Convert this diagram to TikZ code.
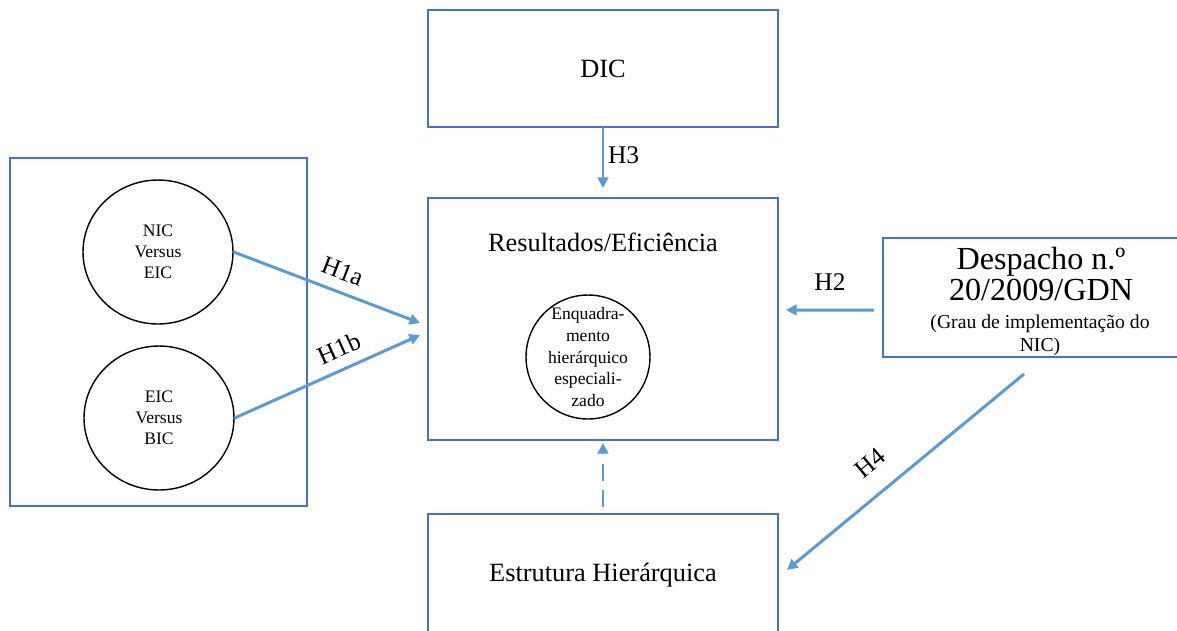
\documentclass[tikz,border=0pt]{standalone}
\usepackage{fontspec}
\setmainfont{Liberation Serif}
\usepackage{tikz}
\usetikzlibrary{shapes.geometric, arrows.meta, positioning, calc}
\usepackage{xcolor}
\definecolor{boxline}{HTML}{4472C4}
\definecolor{hypo}{HTML}{5B9BD5}
\tikzset{
  block/.style={rectangle, draw=boxline, line width=0.7pt, fill=white,
                minimum width=7cm, inner sep=0pt, outer sep=0pt,
                align=center, font=\fontsize{15}{18}\selectfont},
  bubble/.style={ellipse, draw=black, line width=0.8pt, inner sep=0pt,
                 minimum width=3cm, minimum height=2.88cm, align=center,
                 font=\fontsize{10}{12}\selectfont},
  hyp/.style={-{Triangle[length=6pt,width=6pt]}, line width=1.7pt, draw=hypo},
  dashhyp/.style={hyp, dash pattern=on 9.5pt off 5.5pt},
  hlabel/.style={font=\fontsize{14.5}{17}\selectfont, text=black, inner sep=2pt},
}

\begin{document}
\begin{tikzpicture}[x=0.02cm, y=-0.02cm]
  \useasboundingbox (0,0) rectangle (1177,630);

  %% Central column
  \node[block, minimum height=2.34cm] (dic) at (603,68.5) {DIC};
  \node[block, minimum height=4.84cm] (res) at (603,319) {};
  \node[font=\fontsize{15}{18}\selectfont] (restit) at (603,242) {Resultados/Eficiência};
  \node[circle, draw=black, line width=0.8pt, minimum size=2.48cm] (enq) at (588,357) {};
  \node[align=center, font=\fontsize{10}{12.3}\selectfont] (enqtxt) at (enq)
    {Enquadra-\\mento\\hierárquico\\especiali-\\zado};
  \node[block, minimum height=2.44cm] (est) at (603,575) {Estrutura Hierárquica};

  %% Left group
  \node[block, minimum width=5.94cm, minimum height=6.96cm] (grp) at (158.5,332) {};
  \node[bubble] (nic) at (158,252) {NIC\\Versus\\EIC};
  \node[bubble] (eic) at (159,418) {EIC\\Versus\\BIC};

  %% Right box
  \node[block, minimum width=6.28cm, minimum height=2.38cm] (desp) at (1040,297.5) {};
  \node[align=center, font=\fontsize{18.3}{18.1}\selectfont] (desptit) at (1041,274)
    {Despacho n.º\\20/2009/GDN};
  \node[align=center, font=\fontsize{11.2}{13}\selectfont] (despsub) at (1040,335)
    {(Grau de implementação do\\NIC)};

  %% Hypotheses
  \draw[hyp, shorten >=0.2cm] (dic) -- (res)
    node[hlabel, pos=0.4, right] {H3};
  \draw[hyp] (nic.east) -- ($(res.west)+(-8,4)$)
    node[hlabel, pos=0.545, above=4pt, sloped] {H1a};
  \draw[hyp] (eic.east) -- ($(res.west)+(-8,16)$)
    node[hlabel, pos=0.61, above=4pt, sloped] {H1b};
  \draw[hyp] ($(desp.west)+(-9,12.5)$) -- ($(res.east)+(8,-9)$)
    node[hlabel, midway, above=8pt] {H2};
  \draw[hyp] ($(desp.south)+(-16,17)$) -- ($(est.east)+(9,-5)$)
    node[hlabel, pos=0.57, above=9pt, sloped] {H4};
  \draw[dashhyp, shorten <=0.14cm, shorten >=0.06cm] (est) -- (res);

\end{tikzpicture}
\end{document}
